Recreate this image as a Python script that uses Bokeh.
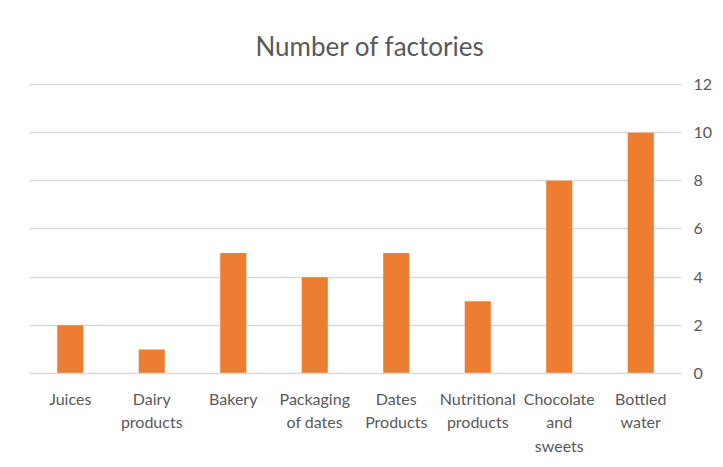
from bokeh.plotting import figure
from bokeh.models import FactorRange, Range1d, FixedTicker, ColumnDataSource
from bokeh.embed import file_html
from bokeh.resources import INLINE

categories = ["Juices", "Dairy\nproducts", "Bakery", "Packaging\nof dates", "Dates\nProducts",
              "Nutritional\nproducts", "Chocolate\nand\nsweets", "Bottled\nwater"]
factories = [2, 1, 5, 4, 5, 3, 8, 10]
y_ticks = [0, 2, 4, 6, 8, 10, 12]
title_text = "Number of factories"

FONT = "Lato"
TXT = "#595959"

src = ColumnDataSource(dict(cat=categories, val=factories))

p = figure(width=715, height=459, output_backend="svg", toolbar_location=None,
           x_range=FactorRange(factors=categories, range_padding=0),
           y_range=Range1d(0, 12.0415), y_axis_location="right",
           min_border_left=29, min_border_right=30, min_border_top=83, min_border_bottom=86)

p.vbar(x="cat", top="val", width=0.32, source=src, color="#ED7D31", line_color=None)

p.title.text = title_text
p.title.text_font = FONT
p.title.text_font_size = "26px"
p.title.text_font_style = "normal"
p.title.text_color = TXT
p.title.align = "left"
p.title.offset = 226
p.title.standoff = 43

p.outline_line_color = None
p.xgrid.grid_line_color = None
p.ygrid.grid_line_color = "#D9D9D9"
p.ygrid.grid_line_width = 1.3
p.ygrid.ticker = FixedTicker(ticks=y_ticks)

ya = p.yaxis[0]
ya.ticker = FixedTicker(ticks=y_ticks)
ya.axis_line_color = None
ya.major_tick_line_color = None
ya.minor_tick_line_color = None
ya.major_tick_out = 0
ya.major_tick_in = 0
ya.minor_tick_out = 0
ya.major_label_text_font = FONT
ya.major_label_text_font_size = "16px"
ya.major_label_text_color = TXT
ya.major_label_standoff = 12

xa = p.xaxis[0]
xa.axis_line_color = "#D9D9D9"
xa.axis_line_width = 1.3
xa.major_tick_line_color = None
xa.minor_tick_line_color = None
xa.major_tick_out = 0
xa.major_tick_in = 0
xa.minor_tick_out = 0
xa.major_label_text_font = FONT
xa.major_label_text_font_size = "16px"
xa.major_label_text_color = TXT
xa.major_label_text_line_height = 1.25
xa.major_label_standoff = 15

open("out.html", "w").write(file_html(p, INLINE))
